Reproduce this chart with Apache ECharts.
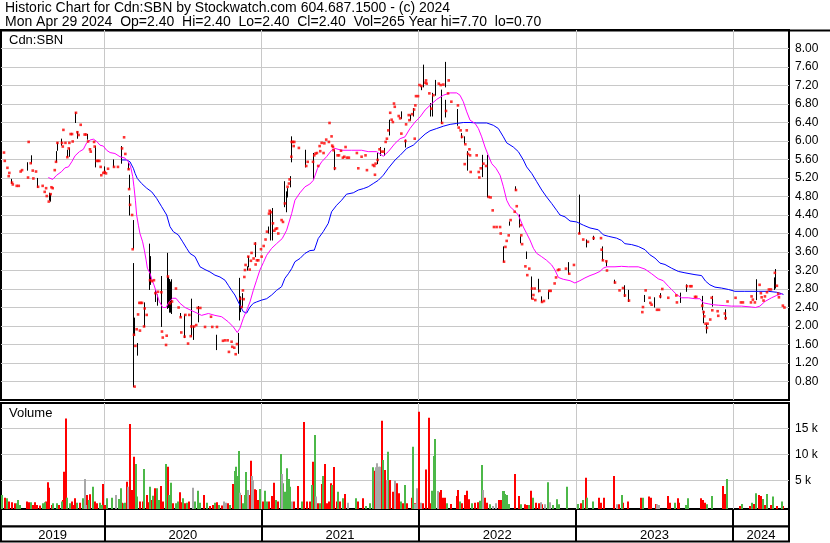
<!DOCTYPE html>
<html><head><meta charset="utf-8">
<script src="https://cdn.jsdelivr.net/npm/echarts@6/dist/echarts.min.js"></script>
<style>html,body{margin:0;padding:0;background:#fff}#c{width:830px;height:543px}</style>
</head><body><div id="c"></div>
<script>
// ---------- texts ----------
const titleLine1 = 'Historic Chart for Cdn:SBN by Stockwatch.com 604.687.1500 - (c) 2024';
const titleLine2 = 'Mon Apr 29 2024  Op=2.40  Hi=2.40  Lo=2.40  Cl=2.40  Vol=265 Year hi=7.70  lo=0.70';
const symbolName = 'Cdn:SBN';
const volumeTitle = 'Volume';
const yearLabels = [2019, 2020, 2021, 2022, 2023, 2024];
// x values are decimal years
const xMin = 2019.343, xMax = 2024.356;

// ---------- price data: [year, close] ----------
const closes = [
[2019.362,5.75],[2019.367,5.57],[2019.384,5.42],[2019.392,5.24],[2019.396,5.31],[2019.413,5.10],[2019.418,5.06],[2019.443,5.03],[2019.456,5.03],[2019.468,5.34],[2019.477,5.37],[2019.515,5.21],[2019.519,5.98],[2019.532,5.52],[2019.545,5.36],[2019.549,5.19],[2019.566,5.34],[2019.579,5.01],[2019.608,5.03],[2019.621,4.90],[2019.630,4.98],[2019.634,4.81],[2019.647,4.69],[2019.659,4.85],[2019.664,5.00],[2019.672,4.98],[2019.685,5.37],[2019.693,5.55],[2019.702,5.96],[2019.731,5.96],[2019.736,5.88],[2019.740,6.24],[2019.753,5.96],[2019.765,5.65],[2019.774,5.84],[2019.778,5.96],[2019.786,6.15],[2019.795,6.15],[2019.799,5.99],[2019.820,6.61],[2019.829,6.19],[2019.837,6.13],[2019.850,6.35],[2019.875,6.14],[2019.884,6.14],[2019.897,5.99],[2019.909,5.82],[2019.914,5.77],[2019.935,5.98],[2019.939,5.88],[2019.952,5.57],[2019.960,5.57],[2019.969,5.57],[2019.977,5.44],[2019.981,5.26],[2019.994,5.31],[2020.003,5.33],[2020.011,5.30],[2020.024,5.40],[2020.062,5.44],[2020.087,5.44],[2020.113,5.84],[2020.126,6.08],[2020.134,5.72],[2020.155,5.39],[2020.158,4.96],[2020.164,4.62],[2020.177,4.40],[2020.181,3.66],[2020.189,1.81],[2020.193,0.69],[2020.198,1.57],[2020.206,1.93],[2020.215,2.25],[2020.223,2.50],[2020.227,1.90],[2020.232,2.50],[2020.240,2.50],[2020.253,1.99],[2020.257,2.38],[2020.270,2.24],[2020.291,2.99],[2020.304,2.97],[2020.316,2.99],[2020.325,2.71],[2020.342,2.74],[2020.363,2.73],[2020.367,1.88],[2020.372,1.75],[2020.393,1.59],[2020.397,1.79],[2020.405,3.07],[2020.418,2.49],[2020.431,2.53],[2020.456,2.81],[2020.473,2.40],[2020.486,2.19],[2020.490,1.86],[2020.511,1.77],[2020.516,2.24],[2020.533,1.62],[2020.541,2.24],[2020.550,1.78],[2020.554,1.99],[2020.571,1.99],
[2020.585,2.02],[2020.594,2.39],[2020.611,2.39],[2020.641,1.98],[2020.679,2.20],[2020.687,1.98],[2020.717,1.98],[2020.755,1.68],[2020.768,1.69],[2020.785,1.69],[2020.793,1.44],[2020.810,1.66],[2020.814,1.55],[2020.827,1.53],[2020.836,1.39],[2020.844,1.61],[2020.865,2.59],[2020.874,2.41],[2020.882,2.77],[2020.887,2.58],[2020.891,3.06],[2020.895,3.21],[2020.899,3.32],[2020.916,3.50],[2020.925,3.22],[2020.933,3.41],[2020.937,3.58],[2020.950,3.46],[2020.959,3.78],[2020.963,3.33],[2020.971,3.42],[2020.980,3.42],[2020.997,3.66],[2021.001,3.50],[2021.014,3.73],[2021.026,3.87],[2021.035,4.04],[2021.048,4.43],[2021.052,4.49],[2021.060,4.46],[2021.073,4.22],[2021.082,4.06],[2021.090,4.10],[2021.099,4.11],[2021.107,4.00],[2021.128,4.29],[2021.137,4.25],[2021.149,4.65],[2021.166,5.01],[2021.175,5.08],[2021.179,5.17],[2021.190,5.66],[2021.192,5.98],[2021.200,5.98],[2021.205,5.89],[2021.209,5.98],[2021.238,5.85],[2021.285,5.46],[2021.294,5.55],[2021.328,5.55],[2021.336,5.69],[2021.344,5.73],[2021.353,5.74],[2021.361,5.46],[2021.370,5.89],[2021.374,5.78],[2021.383,5.96],[2021.395,5.74],[2021.400,5.95],[2021.412,6.03],[2021.429,5.98],[2021.433,6.39],[2021.446,6.10],[2021.450,5.90],[2021.455,5.87],[2021.459,5.80],[2021.467,5.41],[2021.484,5.69],[2021.493,5.69],[2021.506,5.79],[2021.518,5.64],[2021.527,5.66],[2021.535,5.87],[2021.544,5.64],[2021.556,5.64],[2021.607,5.74],[2021.616,5.41],[2021.637,5.66],[2021.662,5.69],[2021.671,5.37],[2021.709,5.48],[2021.718,5.46],[2021.722,5.27],[2021.726,5.51],[2021.739,5.59],[2021.751,5.82],[2021.764,5.77],[2021.777,5.77],[2021.790,5.98],[2021.798,6.05],[2021.807,6.23],[2021.819,6.61],[2021.828,6.46],[2021.836,6.41],
[2021.843,6.81],[2021.848,6.74],[2021.873,6.54],[2021.882,6.49],[2021.890,6.16],[2021.916,6.00],[2021.920,6.36],[2021.937,6.56],[2021.941,6.45],[2021.958,6.58],[2021.971,6.68],[2021.975,6.05],[2021.979,6.77],[2021.983,6.97],[2021.996,6.97],[2022.005,7.21],[2022.017,7.19],[2022.043,7.26],[2022.047,7.31],[2022.051,7.24],[2022.068,7.03],[2022.081,6.70],[2022.094,6.99],[2022.128,7.24],[2022.140,7.21],[2022.149,6.39],[2022.157,7.22],[2022.174,6.65],[2022.187,7.03],[2022.191,7.31],[2022.208,6.85],[2022.250,6.77],[2022.255,6.29],[2022.267,6.23],[2022.276,6.09],[2022.293,5.50],[2022.297,5.93],[2022.306,6.23],[2022.314,5.72],[2022.323,5.82],[2022.327,5.69],[2022.331,5.33],[2022.369,5.69],[2022.382,5.33],[2022.386,5.21],[2022.395,5.41],[2022.412,5.51],[2022.429,5.46],[2022.446,4.79],[2022.458,4.78],[2022.471,4.50],[2022.479,4.14],[2022.496,4.14],[2022.518,4.14],[2022.522,4.00],[2022.543,3.39],[2022.552,3.71],[2022.560,3.84],[2022.573,3.96],[2022.585,4.29],[2022.611,4.47],[2022.619,4.94],[2022.624,4.59],[2022.649,4.18],[2022.653,3.96],[2022.658,3.77],[2022.679,3.29],[2022.691,3.10],[2022.704,3.24],[2022.721,2.81],[2022.725,2.59],[2022.730,2.67],[2022.738,2.81],[2022.742,2.56],[2022.768,2.76],[2022.785,2.52],[2022.797,2.54],[2022.831,2.76],[2022.840,2.76],[2022.865,2.92],[2022.874,3.05],[2022.886,3.21],[2022.895,3.22],[2022.937,3.24],[2022.958,3.13],[2022.988,3.32],[2023.022,4.00],[2023.047,3.87],[2023.077,3.82],
[2023.113,3.90],[2023.160,3.90],[2023.164,3.65],[2023.172,3.42],[2023.194,3.40],[2023.198,3.20],[2023.249,2.94],[2023.278,2.77],[2023.300,2.82],[2023.312,2.66],[2023.338,2.55],[2023.423,2.30],[2023.427,2.41],[2023.444,2.77],[2023.469,2.61],[2023.474,2.50],[2023.482,2.46],[2023.516,2.35],[2023.529,2.35],[2023.537,2.64],[2023.550,2.80],[2023.588,2.61],[2023.639,2.66],[2023.643,2.51],[2023.707,2.86],[2023.728,2.86],[2023.736,2.86],[2023.758,2.63],[2023.766,2.63],[2023.804,2.44],[2023.813,2.30],[2023.817,2.21],[2023.825,2.05],[2023.834,1.96],[2023.838,2.05],[2023.855,2.14],[2023.864,2.61],[2023.868,2.34],[2023.902,2.32],[2023.906,2.22],[2023.948,2.27],[2023.953,2.17],[2023.965,2.53],[2024.016,2.61],[2024.050,2.51],[2024.063,2.51],[2024.114,2.51],[2024.118,2.64],[2024.126,2.57],[2024.139,2.51],[2024.169,2.89],[2024.177,2.71],[2024.182,2.62],[2024.194,2.55],[2024.203,2.64],[2024.216,2.73],[2024.228,2.79],[2024.241,2.79],[2024.266,3.15],[2024.279,2.87],[2024.287,2.70],[2024.292,2.62],[2024.317,2.44],[2024.327,2.40]
];

// ---------- high-low ranges: [year, low, high] ----------
const ranges = [
[2019.405,5.09,5.17],[2019.511,5.37,5.53],[2019.532,5.52,5.68],[2019.574,5.00,5.19],[2019.647,4.72,4.87],[2019.655,4.70,4.85],[2019.693,5.55,5.77],[2019.702,5.80,5.96],[2019.727,5.91,6.04],[2019.761,5.66,5.80],[2019.774,5.67,5.84],[2019.816,6.40,6.61],[2019.829,6.06,6.20],[2019.892,6.04,6.14],[2019.943,5.44,5.88],[2019.998,5.30,5.44],[2020.058,5.44,5.59],[2020.109,5.52,5.88],[2020.151,5.39,5.53],[2020.155,4.98,5.26],[2020.160,4.40,4.82],[2020.181,3.68,4.28],[2020.185,0.69,3.35],[2020.189,1.80,2.17],[2020.206,1.37,1.62],[2020.253,1.99,2.50],[2020.283,2.79,3.77],[2020.287,2.85,3.68],[2020.291,2.90,3.50],[2020.325,2.53,2.78],[2020.333,2.45,2.67],[2020.359,1.99,3.07],[2020.401,2.38,3.57],[2020.405,2.40,3.05],[2020.410,2.35,3.00],[2020.414,2.30,3.00],[2020.418,2.30,2.95],[2020.427,2.27,3.00],[2020.482,2.20,2.27],[2020.507,1.75,2.24],[2020.550,1.78,2.58],[2020.567,1.71,1.99],
[2020.594,2.09,2.42],[2020.708,1.49,1.80],[2020.848,1.41,1.80],[2020.853,1.59,1.84],[2020.857,2.13,3.03],[2020.861,2.31,2.63],[2020.878,2.41,2.70],[2020.908,3.21,3.28],[2020.916,3.28,3.50],[2020.959,3.50,3.80],[2021.039,4.01,4.14],[2021.056,3.86,4.50],[2021.069,3.86,4.54],[2021.145,4.58,5.12],[2021.154,4.47,4.90],[2021.162,4.79,4.97],[2021.179,5.01,5.23],[2021.188,5.55,6.09],[2021.277,5.44,5.80],[2021.328,5.19,5.73],[2021.463,5.38,5.80],[2021.735,5.51,5.73],[2021.756,5.69,5.86],[2021.781,5.69,5.84],[2021.811,6.13,6.45],
[2021.886,6.49,6.63],[2021.911,5.87,6.02],[2021.945,6.45,6.56],[2021.966,6.54,6.70],[2022.013,7.11,7.17],[2022.030,7.17,7.64],[2022.072,6.54,6.81],[2022.085,6.54,7.03],[2022.102,6.99,7.31],[2022.144,6.38,7.10],[2022.166,7.17,7.70],[2022.170,6.52,6.88],[2022.246,6.34,6.68],[2022.272,6.07,6.16],[2022.289,5.95,6.09],[2022.310,5.37,5.77],[2022.403,5.23,5.69],[2022.437,4.79,5.69],[2022.539,3.39,3.71],[2022.573,4.18,4.25],[2022.615,4.94,5.01],[2022.641,4.14,4.40],[2022.645,3.80,3.93],[2022.683,3.46,3.60],[2022.717,2.59,3.06],[2022.759,2.74,3.01],[2022.780,2.52,2.63],[2022.823,2.59,2.76],[2022.950,3.13,3.37],[2023.018,4.00,4.83],[2023.066,3.71,3.86],
[2023.109,3.87,3.94],[2023.168,3.42,3.71],[2023.189,3.30,3.40],[2023.245,2.93,2.99],[2023.308,2.64,2.87],[2023.334,2.53,2.77],[2023.431,2.53,2.66],[2023.495,2.41,2.61],[2023.537,2.61,2.70],[2023.660,2.51,2.71],[2023.702,2.75,2.89],[2023.800,2.35,2.64],[2023.808,2.07,2.32],[2023.830,1.85,2.03],[2023.868,2.43,2.64],[2023.948,2.14,2.35],[2024.148,2.57,3.00],[2024.258,2.79,3.04],[2024.270,2.82,3.22]
];

// ---------- moving averages: [year, value] ----------
const maShort = [
[2019.644,5.21],[2019.672,5.17],[2019.697,5.26],[2019.729,5.34],[2019.750,5.42],[2019.772,5.44],[2019.793,5.55],[2019.814,5.68],[2019.842,5.77],[2019.867,5.82],[2019.888,5.96],[2019.909,6.02],[2019.931,6.04],[2019.952,5.99],[2019.973,5.91],[2019.994,5.89],[2020.015,5.80],[2020.037,5.75],[2020.068,5.73],[2020.100,5.66],[2020.132,5.63],[2020.153,5.55],[2020.168,5.44],[2020.181,5.23],[2020.189,5.01],[2020.198,4.72],[2020.206,4.40],[2020.217,4.18],[2020.227,4.00],[2020.244,3.82],[2020.255,3.64],[2020.266,3.43],[2020.274,3.25],[2020.291,3.14],[2020.304,2.99],[2020.316,2.89],[2020.333,2.71],[2020.350,2.53],[2020.372,2.40],[2020.393,2.40],[2020.414,2.53],[2020.435,2.60],[2020.456,2.60],[2020.482,2.49],[2020.514,2.40],[2020.545,2.35],[2020.577,2.30],[2020.619,2.23],[2020.662,2.27],[2020.704,2.23],[2020.747,2.20],[2020.789,2.09],[2020.821,1.98],[2020.846,1.86],[2020.863,1.95],[2020.884,2.16],[2020.906,2.34],[2020.927,2.52],[2020.948,2.77],[2020.969,2.99],[2020.990,3.21],[2021.012,3.37],[2021.033,3.53],[2021.065,3.68],[2021.096,3.78],[2021.132,3.89],[2021.160,4.07],[2021.192,4.43],[2021.213,4.72],[2021.245,4.88],[2021.277,5.01],[2021.308,5.07],[2021.330,5.15],[2021.357,5.41],[2021.383,5.55],[2021.414,5.66],[2021.446,5.80],[2021.467,5.84],[2021.510,5.80],[2021.573,5.80],[2021.637,5.80],[2021.679,5.77],[2021.732,5.77],[2021.775,5.67],[2021.807,5.77],[2021.850,5.95],[2021.882,6.05],[2021.913,6.09],[2021.945,6.27],[2021.977,6.41],[2022.009,6.52],[2022.041,6.67],[2022.072,6.77],[2022.115,6.90],[2022.157,6.99],[2022.200,7.04],[2022.242,7.04],[2022.263,6.99],[2022.284,6.85],[2022.306,6.63],[2022.327,6.45],[2022.359,6.38],[2022.380,6.27],[2022.401,6.09],[2022.422,5.87],[2022.443,5.69],[2022.465,5.51],[2022.492,5.41],[2022.518,5.26],[2022.539,5.01],[2022.560,4.72],[2022.581,4.58],[2022.607,4.50],[2022.634,4.40],[2022.666,4.14],[2022.687,4.00],[2022.708,3.86],[2022.730,3.68],[2022.751,3.57],[2022.782,3.50],[2022.814,3.42],[2022.846,3.32],[2022.867,3.21],[2022.889,3.05],[2022.920,3.01],[2022.963,2.98],[2022.994,2.93],[2023.026,2.98],[2023.058,3.04],[2023.090,3.09],[2023.122,3.13],[2023.153,3.18],[2023.175,3.25],[2023.196,3.28],[2023.249,3.28],[2023.291,3.29],[2023.334,3.28],[2023.397,3.28],[2023.440,3.23],[2023.482,3.13],[2023.524,3.02],[2023.556,2.98],[2023.588,2.86],[2023.609,2.79],[2023.641,2.68],[2023.673,2.61],[2023.715,2.61],[2023.758,2.59],[2023.789,2.59],[2023.811,2.50],[2023.842,2.48],[2023.874,2.46],[2023.906,2.45],[2023.948,2.44],[2023.991,2.43],[2024.054,2.43],[2024.118,2.41],[2024.143,2.40],[2024.171,2.43],[2024.203,2.53],[2024.245,2.61],[2024.277,2.66],[2024.298,2.68],[2024.313,2.70]
];
const maLong = [
[2020.111,5.59],[2020.143,5.59],[2020.164,5.55],[2020.174,5.48],[2020.185,5.41],[2020.196,5.30],[2020.210,5.19],[2020.238,5.08],[2020.270,4.98],[2020.302,4.90],[2020.333,4.76],[2020.365,4.58],[2020.397,4.40],[2020.418,4.15],[2020.439,4.04],[2020.471,3.97],[2020.499,3.82],[2020.524,3.68],[2020.545,3.57],[2020.577,3.50],[2020.609,3.28],[2020.641,3.22],[2020.672,3.17],[2020.704,3.10],[2020.736,3.06],[2020.768,2.99],[2020.789,2.88],[2020.810,2.77],[2020.831,2.67],[2020.857,2.49],[2020.884,2.31],[2020.906,2.28],[2020.927,2.41],[2020.948,2.49],[2020.969,2.52],[2021.001,2.56],[2021.033,2.59],[2021.065,2.67],[2021.096,2.77],[2021.128,2.85],[2021.149,3.03],[2021.171,3.13],[2021.192,3.24],[2021.213,3.39],[2021.245,3.46],[2021.277,3.57],[2021.308,3.63],[2021.336,3.64],[2021.361,3.89],[2021.393,4.04],[2021.425,4.22],[2021.446,4.47],[2021.478,4.61],[2021.510,4.72],[2021.541,4.85],[2021.584,4.88],[2021.616,4.94],[2021.648,4.97],[2021.679,5.01],[2021.711,5.08],[2021.743,5.15],[2021.775,5.26],[2021.807,5.41],[2021.850,5.59],[2021.882,5.69],[2021.924,5.84],[2021.966,5.91],[2022.009,6.05],[2022.041,6.15],[2022.072,6.22],[2022.115,6.27],[2022.157,6.32],[2022.200,6.36],[2022.242,6.38],[2022.284,6.40],[2022.327,6.40],[2022.369,6.39],[2022.433,6.39],[2022.475,6.34],[2022.507,6.27],[2022.539,6.09],[2022.560,5.96],[2022.602,5.87],[2022.634,5.77],[2022.666,5.59],[2022.687,5.44],[2022.719,5.30],[2022.751,5.12],[2022.783,4.94],[2022.814,4.79],[2022.846,4.65],[2022.878,4.50],[2022.899,4.40],[2022.931,4.36],[2022.963,4.27],[2023.005,4.25],[2023.048,4.18],[2023.090,4.12],[2023.143,4.08],[2023.175,3.97],[2023.206,3.94],[2023.259,3.90],[2023.291,3.85],[2023.312,3.78],[2023.355,3.76],[2023.397,3.72],[2023.440,3.65],[2023.471,3.54],[2023.503,3.47],[2023.535,3.36],[2023.567,3.33],[2023.609,3.25],[2023.652,3.18],[2023.694,3.15],[2023.758,3.11],[2023.800,3.09],[2023.825,2.97],[2023.853,2.89],[2023.885,2.84],[2023.927,2.82],[2023.970,2.79],[2024.012,2.75],[2024.075,2.75],[2024.160,2.75],[2024.224,2.75],[2024.277,2.73],[2024.309,2.70],[2024.321,2.68]
];

// ---------- volume: [year, shares] ----------
const volDown = [
[2019.369,1660],[2019.396,900],[2019.411,770],[2019.432,580],[2019.507,900],[2019.524,770],[2019.549,260],[2019.560,770],[2019.574,260],[2019.591,130],[2019.627,900],[2019.640,4610],[2019.651,3580],[2019.666,260],[2019.714,260],[2019.740,1220],[2019.746,6660],[2019.757,16900],[2019.793,900],[2019.803,260],[2019.814,1540],[2019.846,700],[2019.892,2180],[2019.909,2300],[2019.941,900],[2019.956,580],[2019.994,4290],[2020.005,260],[2020.113,700],[2020.143,4740],[2020.162,15810],[2020.170,3140],[2020.179,3140],[2020.187,9540],[2020.196,3460],[2020.227,900],[2020.244,900],[2020.270,2180],[2020.280,770],[2020.302,1220],[2020.323,3460],[2020.361,3900],[2020.376,900],[2020.403,7620],[2020.439,580],[2020.482,2690],[2020.492,770],[2020.514,580],[2020.541,900],[2020.634,2180],[2020.673,80],[2020.694,260],[2020.715,770],[2020.747,130],[2020.789,580],[2020.821,4290],[2020.872,2180],[2020.923,2180],[2020.931,8770],[2020.957,3260],[2020.965,3140],[2020.976,1220],[2021.008,900],[2021.050,900],[2021.065,1980],[2021.080,4540],[2021.107,900],[2021.207,900],[2021.230,3900],[2021.273,16190],[2021.287,900],[2021.309,900],[2021.330,8580],[2021.362,580],[2021.385,4290],[2021.404,8130],[2021.415,580],[2021.427,900],[2021.440,4420],[2021.461,7550],[2021.478,900],[2021.499,900],[2021.533,2370],[2021.616,900],[2021.648,1540],[2021.718,6850],[2021.767,16450],[2021.786,6980],[2021.817,5060],[2021.834,2820],[2021.860,4420],[2021.873,2500],[2021.902,580],[2021.928,580],
[2021.956,1660],[2021.977,580],[2022.004,18180],[2022.030,580],[2022.047,7100],[2022.064,17020],[2022.076,580],[2022.132,2690],[2022.140,3140],[2022.153,1660],[2022.165,1660],[2022.204,450],[2022.242,1980],[2022.250,3140],[2022.276,580],[2022.293,2180],[2022.305,3010],[2022.318,1340],[2022.361,700],[2022.377,770],[2022.420,1660],[2022.433,700],[2022.509,1220],[2022.522,1220],[2022.615,6210],[2022.640,1980],[2022.674,380],[2022.687,260],[2022.717,3010],[2022.746,700],[2022.763,580],[2022.785,380],[2023.030,580],[2023.064,5500],[2023.149,1660],[2023.158,700],[2023.179,1660],[2023.242,5820],[2023.272,380],[2023.302,700],[2023.331,900],[2023.412,1660],[2023.467,1860],[2023.476,1660],[2023.510,450],[2023.586,1980],[2023.599,700],[2023.649,1540],[2023.658,700],[2023.798,1540],[2023.806,1220],[2023.819,700],[2023.938,3900],[2023.948,2370],[2024.044,80],[2024.107,80],[2024.133,450],[2024.167,2180],[2024.175,1980],[2024.201,260],[2024.243,260],[2024.277,80],[2024.319,80]
];
const volUp = [
[2019.348,2180],[2019.384,1540],[2019.443,580],[2019.454,1220],[2019.464,260],[2019.532,770],[2019.608,580],[2019.623,770],[2019.676,580],[2019.697,580],[2019.729,900],[2019.765,1660],[2019.782,580],[2019.829,700],[2019.863,1540],[2019.901,1220],[2019.926,3780],[2019.973,700],[2019.984,260],[2020.015,1540],[2020.047,1660],[2020.092,1410],[2020.104,3460],[2020.126,580],[2020.134,700],[2020.202,8130],[2020.210,1860],[2020.253,7170],[2020.291,3780],[2020.312,2050],[2020.333,3460],[2020.350,1220],[2020.393,8130],[2020.414,2180],[2020.425,4540],[2020.456,580],[2020.469,900],[2020.503,1540],[2020.528,700],[2020.579,900],[2020.596,3010],[2020.609,700],[2020.651,700],[2020.704,700],[2020.732,260],[2020.800,260],[2020.832,6780],[2020.840,7620],[2020.846,5820],[2020.855,10620],[2020.880,580],[2020.895,2180],[2020.904,6590],[2020.991,3330],[2021.025,3010],[2021.033,900],[2021.092,1220],[2021.122,10050],[2021.139,4420],[2021.147,2820],[2021.160,7300],[2021.173,5250],[2021.181,3780],[2021.258,900],[2021.323,4100],[2021.338,13700],[2021.372,580],[2021.393,5820],[2021.449,4100],[2021.487,2820],[2021.516,1540],[2021.601,1540],[2021.665,80],[2021.690,580],[2021.707,7490],[2021.775,8900],[2021.805,10500],[2021.885,900],[2021.913,4100],
[2021.966,11460],[2022.085,3010],[2022.098,9660],[2022.106,12930],[2022.178,580],[2022.263,900],[2022.337,580],[2022.390,1090],[2022.403,7940],[2022.454,380],[2022.534,2940],[2022.543,2940],[2022.551,2370],[2022.564,2180],[2022.577,450],[2022.653,380],[2022.704,260],[2022.729,1660],[2022.823,4610],[2022.857,260],[2022.878,1340],[2022.895,380],[2022.941,3780],[2023.016,450],[2023.043,1220],[2023.073,1660],[2023.107,900],[2023.291,2180],[2023.429,1660],[2023.633,700],[2023.700,260],[2023.713,1540],[2023.832,380],[2023.866,1980],[2023.959,5250],[2024.057,450],[2024.120,700],[2024.146,2500],[2024.188,1410],[2024.218,2370],[2024.256,1860],[2024.309,900]
];
const volFlat = [
[2019.880,5250],[2019.884,260],[2020.075,2180],[2020.151,3780],[2020.562,3580],[2020.762,900],[2020.774,700],[2020.863,2620],[2020.914,3140],[2020.940,5820],[2020.948,5060],[2021.131,6210],[2021.194,900],[2021.347,1860],[2021.553,700],[2021.728,7490],[2021.737,8260],[2021.745,7620],[2021.754,7620],[2021.796,5060],[2021.849,4930],[2021.976,450],[2021.987,3460],[2022.017,700],[2022.123,2940],[2022.411,3140],[2022.475,80],[2022.492,580],[2022.776,770],[2022.801,380],[2022.835,770],[2023.259,380],[2023.518,380],[2023.531,260]
];

// ---------- rendering ----------
const FONT = '"Liberation Sans", Arial, sans-serif';
const GRID_COLOR = '#c8c8c8';
const yearMids = yearLabels.map(y => (Math.max(y, xMin) + Math.min(y + 1, xMax)) / 2);

function rangeItem(params, api) {
  const a = api.coord([api.value(0), api.value(1)]);
  const b = api.coord([api.value(0), api.value(2)]);
  const x = Math.round(a[0]) + 0.5;
  return { type: 'line', shape: { x1: x, y1: a[1] + 0.5, x2: x, y2: b[1] - 0.5 },
           style: { stroke: '#000', lineWidth: 1 } };
}
function volItem(color) {
  return function (params, api) {
    const p = api.coord([api.value(0), api.value(1)]);
    const cs = params.coordSys;
    const bottom = cs.y + cs.height;
    const x = Math.round(p[0]) - 1;
    return { type: 'rect', shape: { x: x, y: p[1], width: 2, height: bottom - p[1] },
             style: { fill: color } };
  };
}
function xAxisBase(grid, extra) {
  return Object.assign({
    gridIndex: grid, type: 'value', min: xMin, max: xMax, splitNumber: 5,
    axisLine: { show: false }, axisTick: { show: false }, axisLabel: { show: false },
    splitLine: { show: true, showMinLine: false, showMaxLine: false, lineStyle: { color: GRID_COLOR, width: 1 } }
  }, extra || {});
}
const txt = (size) => ({ fontFamily: FONT, fontSize: size, fontWeight: 'normal', color: '#000' });

const chart = echarts.init(document.getElementById('c'), null, { renderer: 'canvas' });
chart.setOption({
  animation: false,
  backgroundColor: '#fff',
  title: [
    { text: titleLine1, left: 5, top: 1, padding: 0, textStyle: txt(14) },
    { text: titleLine2, left: 5, top: 15, padding: 0, textStyle: txt(14) },
    { text: symbolName, left: 9, top: 34, padding: 0, textStyle: txt(13) },
    { text: volumeTitle, left: 9, top: 407, padding: 0, textStyle: txt(13) }
  ],
  grid: [
    { left: 1, top: 30, width: 788, height: 370, show: true, borderColor: '#000', borderWidth: 2, backgroundColor: '#fff' },
    { left: 1, top: 403, width: 788, height: 106, show: true, borderColor: '#000', borderWidth: 2, backgroundColor: '#fff' },
    { left: 1, top: 509, width: 788, height: 17.5, show: true, borderColor: '#000', borderWidth: 2, backgroundColor: '#fff' },
    { left: 1, top: 526.5, width: 788, height: 15, show: true, borderColor: '#000', borderWidth: 2, backgroundColor: '#fff' }
  ],
  xAxis: [
    xAxisBase(0),
    xAxisBase(1),
    xAxisBase(2, { splitLine: { show: true, showMinLine: false, showMaxLine: false, lineStyle: { color: '#000', width: 2 } } }),
    xAxisBase(3, {
      position: 'top',
      splitLine: { show: true, showMinLine: false, showMaxLine: false, lineStyle: { color: '#000', width: 2 } },
      axisLabel: { show: true, inside: true, margin: 2, customValues: yearMids,
                   formatter: v => String(Math.floor(v)), fontFamily: FONT, fontSize: 13, color: '#000' }
    })
  ],
  yAxis: [
    { gridIndex: 0, type: 'value', position: 'right', min: 0.4, max: 8.4, interval: 0.4,
      axisLine: { show: false }, axisTick: { show: false },
      splitLine: { show: true, showMinLine: false, showMaxLine: false, lineStyle: { color: GRID_COLOR, width: 1 } },
      axisLabel: { show: true, margin: 6, showMinLabel: false, showMaxLabel: false,
                   formatter: v => v.toFixed(2), fontFamily: FONT, fontSize: 12, color: '#000' } },
    { gridIndex: 1, type: 'value', position: 'right', min: -520, max: 19865, splitNumber: 4,
      axisLine: { show: false }, axisTick: { show: false },
      splitLine: { show: true, showMinLine: false, showMaxLine: false,
                   lineStyle: { color: ['rgba(0,0,0,0)', GRID_COLOR, GRID_COLOR, GRID_COLOR], width: 1 } },
      axisLabel: { show: true, margin: 6, showMinLabel: false, showMaxLabel: false,
                   formatter: v => (v > 0 && v % 5000 === 0) ? (v / 1000) + ' k' : '',
                   fontFamily: FONT, fontSize: 12, color: '#000' } },
    { gridIndex: 2, type: 'value', show: false, min: 0, max: 1 },
    { gridIndex: 3, type: 'value', show: false, min: 0, max: 1 }
  ],
  series: [
    { type: 'custom', name: 'range', xAxisIndex: 0, yAxisIndex: 0, renderItem: rangeItem, data: ranges, clip: true, silent: true, z: 2 },
    { type: 'line', name: 'long MA', xAxisIndex: 0, yAxisIndex: 0, data: maLong, showSymbol: false, silent: true,
      lineStyle: { color: '#0000ff', width: 1 }, z: 3 },
    { type: 'line', name: 'short MA', xAxisIndex: 0, yAxisIndex: 0, data: maShort, showSymbol: false, silent: true,
      lineStyle: { color: '#ff00ff', width: 1 }, z: 3 },
    { type: 'scatter', name: 'close', xAxisIndex: 0, yAxisIndex: 0, data: closes, symbol: 'rect', symbolSize: 2.6,
      itemStyle: { color: '#ff0000' }, silent: true, z: 4 },
    { type: 'custom', name: 'vol down', xAxisIndex: 1, yAxisIndex: 1, renderItem: volItem('#ff0000'), data: volDown, clip: true, silent: true },
    { type: 'custom', name: 'vol up', xAxisIndex: 1, yAxisIndex: 1, renderItem: volItem('#4cb848'), data: volUp, clip: true, silent: true },
    { type: 'custom', name: 'vol flat', xAxisIndex: 1, yAxisIndex: 1, renderItem: volItem('#a8a8a8'), data: volFlat, clip: true, silent: true }
  ],
  graphic: [
    { type: 'line', shape: { x1: 0, y1: 30.5, x2: 830, y2: 30.5 }, style: { stroke: '#000', lineWidth: 2 }, silent: true }
  ]
});
</script>
</body></html>
